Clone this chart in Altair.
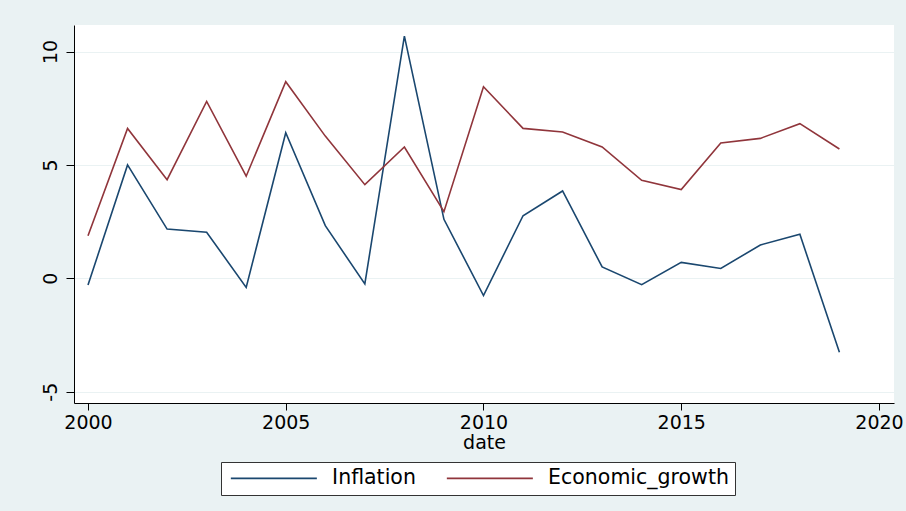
import altair as alt
import pandas as pd

years = list(range(2000, 2020))
inflation = [-0.30, 5.00, 2.17, 2.03, -0.40, 6.42, 2.32, -0.25, 10.68, 2.60,
             -0.76, 2.76, 3.85, 0.50, -0.28, 0.70, 0.43, 1.47, 1.94, -3.26]
growth = [1.88, 6.61, 4.35, 7.80, 4.50, 8.67, 6.27, 4.13, 5.79, 2.94,
          8.45, 6.61, 6.45, 5.79, 4.32, 3.91, 5.97, 6.17, 6.82, 5.70]
series = ["Inflation", "Economic_growth"]
colors = ["#1a476f", "#90353b"]
x_ticks = [2000, 2005, 2010, 2015, 2020]
y_ticks = [-5, 0, 5, 10]

df = pd.DataFrame({
    "date": years * 2,
    "value": inflation + growth,
    "series": [series[0]] * len(years) + [series[1]] * len(years),
})

FONT = "DejaVu Sans"

chart = alt.Chart(df).mark_line(strokeWidth=1.6).encode(
    x=alt.X("date:Q",
            scale=alt.Scale(domain=[1999.646, 2020.38], nice=False, zero=False),
            axis=alt.Axis(title="date", values=x_ticks, format="d", grid=False,
                          tickSize=7, labelPadding=3, titlePadding=1,
                          domainColor="#000000", tickColor="#000000",
                          labelColor="#000000", titleColor="#000000",
                          labelFontSize=19, titleFontSize=19,
                          labelFont=FONT, titleFont=FONT, titleFontWeight="normal",
                          labelFlush=False)),
    y=alt.Y("value:Q",
            scale=alt.Scale(domain=[-5.5, 11.17], nice=False, zero=False),
            axis=alt.Axis(title=None, values=y_ticks, grid=True,
                          labelExpr="'' + datum.value",
                          gridColor="#eaf2f3", gridWidth=1.2,
                          tickSize=8, labelPadding=6, labelAngle=270,
                          domainColor="#000000", tickColor="#000000",
                          labelColor="#000000", labelFontSize=19, labelFont=FONT,
                          labelFlush=False)),
    color=alt.Color("series:N",
                    scale=alt.Scale(domain=series, range=colors),
                    sort=series,
                    legend=alt.Legend(title=None, orient="none", direction="horizontal",
                                      legendX=147, legendY=437,
                                      symbolType="M-8,0H8", symbolSize=115.6,
                                      symbolOffset=36.6,
                                      symbolStrokeWidth=1.6,
                                      labelFontSize=20.5, labelFont=FONT, labelLimit=400,
                                      labelColor="#000000", labelOffset=48,
                                      columnPadding=27, padding=6,
                                      strokeColor="#333333", fillColor="#ffffff")),
).properties(
    width=820,
    height=378,
    padding={"left": 74, "top": 25, "right": 12, "bottom": 108},
    autosize=alt.AutoSizeParams(type="none"),
    background="#eaf2f3",
).configure_view(
    fill="#ffffff",
    stroke=None,
)

chart.save("out.html", embed_options={"renderer": "svg", "actions": False})
